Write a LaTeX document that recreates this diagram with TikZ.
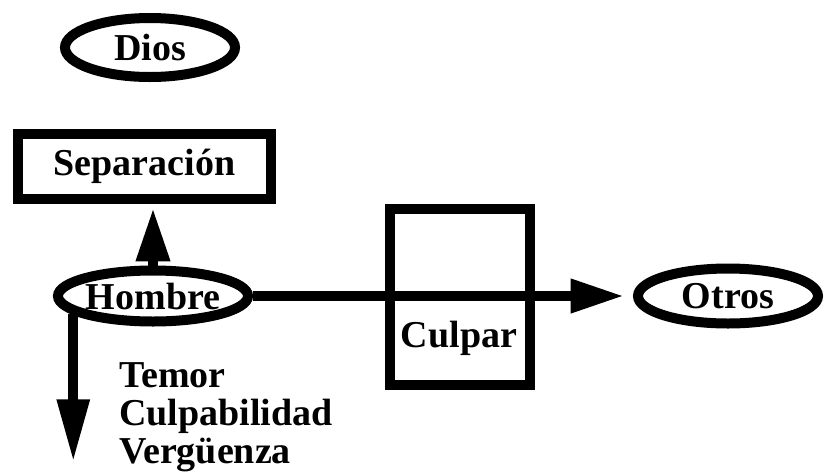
\documentclass[tikz,border=0pt]{standalone}
\usepackage{fontspec}
\setmainfont{Liberation Serif}
\usetikzlibrary{arrows.meta,shapes.geometric}
\begin{document}
\begin{tikzpicture}[x=0.75pt,y=-0.75pt,
  lw/.style={line width=7.5pt},
  txt/.style={font=\fontsize{28.5}{30}\selectfont\bfseries},
  ov/.style={ellipse, draw, lw, inner sep=0pt, txt},
  bx/.style={rectangle, draw, lw, inner sep=0pt, txt},
  conn/.style={lw, -{Triangle[length=40pt,width=24pt]}},
  lab/.style={txt, inner sep=0pt}
]
\useasboundingbox[fill=white] (0,0) rectangle (840,472);
\node[ov, minimum width=127.5pt, minimum height=44.25pt] (dios) at (150,47.5) {Dios};
\node[bx, minimum width=189.75pt, minimum height=48.75pt] (sep) at (144.5,166.5) {Separación};
\node[ov, minimum width=126pt, minimum height=38.25pt] (hombre) at (153,296) {Hombre};
\node[ov, minimum width=135pt, minimum height=41.25pt] (otros) at (728,296) {Otros};
\node[bx, minimum width=105pt, minimum height=132pt] (culpar) at (460,297) {};
\node[lab, anchor=base] (culpartxt) at (459,347) {Culpar};
\node[lab, anchor=base west] (t1) at (119,387) {Temor};
\node[lab, anchor=base west] (t2) at (119,425) {Culpabilidad};
\node[lab, anchor=base west] (t3) at (119,463) {Vergüenza};
\coordinate (fin) at (83,462);
\draw[conn, shorten >=3pt] (hombre.north) -- (hombre.north |- sep.south);
\draw[conn, shorten >=6.75pt] (hombre.east) -- (otros.west);
\draw[lw, -{Triangle[length=47pt,width=23pt]}] (hombre.193) -- (hombre.193 |- fin);
\end{tikzpicture}
\end{document}
